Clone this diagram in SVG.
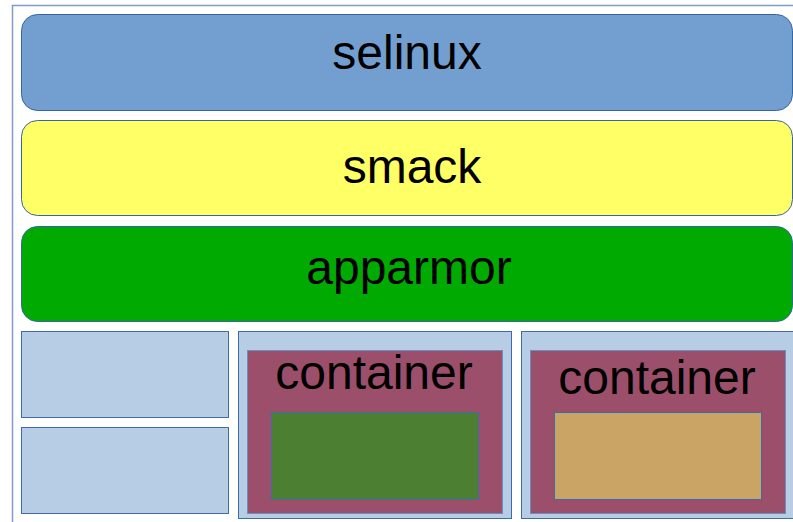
<svg xmlns="http://www.w3.org/2000/svg" width="793" height="522" viewBox="0 0 793 522">
<style>
.lsm{stroke:#3465a4;stroke-width:1}
.t{font-family:"Liberation Sans",Arial,sans-serif;font-size:48px;fill:#000;text-anchor:middle}
.box{fill:#b7cde6;stroke:#3f6ba8;stroke-width:1}
.cont{fill:#9b4f6a;stroke:#6c8ebf;stroke-width:1}
</style>
<rect width="793" height="522" fill="#ffffff"/>
<g id="frame"><path d="M12.5 522 V5.5 H793" fill="none" stroke="#7d9cc8" stroke-width="1.5"/></g>
<g id="selinux"><rect class="lsm" x="21.5" y="14.5" width="771" height="96" rx="16" fill="#729fcf"/><text class="t" x="407" y="69">selinux</text></g>
<g id="smack"><rect class="lsm" x="21.5" y="120.5" width="771" height="95" rx="16" fill="#ffff66"/><text class="t" x="412" y="183">smack</text></g>
<g id="apparmor"><rect class="lsm" x="21.5" y="226.5" width="771" height="95" rx="16" fill="#00aa00"/><text class="t" x="409" y="284">apparmor</text></g>
<g id="box1"><rect class="box" x="21.5" y="331.5" width="207" height="86"/></g>
<g id="box2"><rect class="box" x="21.5" y="427.5" width="207" height="86"/></g>
<g id="host1"><rect class="box" x="238.5" y="331.5" width="273" height="187"/>
<g id="container1"><rect class="cont" x="247.5" y="350.5" width="255" height="163"/><text class="t" x="374" y="389">container</text><rect x="271.5" y="412.5" width="207" height="87" fill="#4c7f32" stroke="#3f6ba8"/></g></g>
<g id="host2"><rect class="box" x="521.5" y="331.5" width="273" height="187"/>
<g id="container2"><rect class="cont" x="530.5" y="350.5" width="255" height="163"/><text class="t" x="657" y="394">container</text><rect x="554.5" y="412.5" width="207" height="87" fill="#caa465" stroke="#3f6ba8"/></g></g>
<g id="connectors"></g>
</svg>
